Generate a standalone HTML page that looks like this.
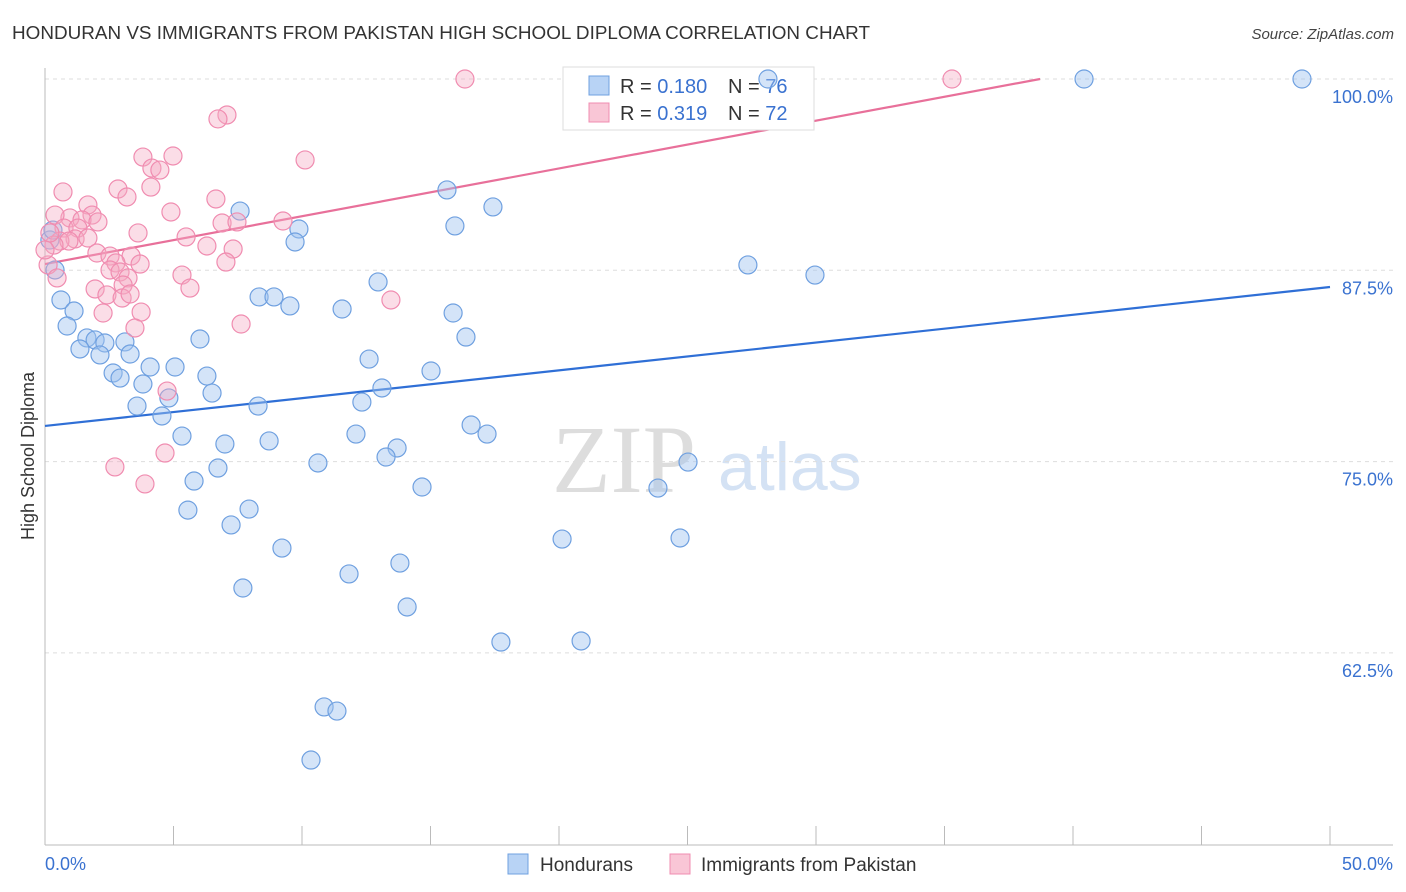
<!DOCTYPE html>
<html><head><meta charset="utf-8"><style>
body{margin:0;background:#fff;font-family:"Liberation Sans",sans-serif;}
svg{display:block}
</style></head><body>
<svg id="chart" width="1406" height="892" xmlns="http://www.w3.org/2000/svg">
<text x="12" y="39" font-size="18" fill="#333" textLength="858" lengthAdjust="spacingAndGlyphs">HONDURAN VS IMMIGRANTS FROM PAKISTAN HIGH SCHOOL DIPLOMA CORRELATION CHART</text>
<text x="1394" y="39" font-size="15" fill="#444" text-anchor="end" font-style="italic">Source: ZipAtlas.com</text>
<text x="552" y="492" font-size="96" fill="#ddd" font-family="Liberation Serif,serif">ZIP</text>
<text x="718" y="490" font-size="68" fill="#d4e2f4">atlas</text>
<text transform="translate(34,456) rotate(-90)" font-size="18" fill="#333" text-anchor="middle">High School Diploma</text>
<g id="grid"></g><g id="axes"></g><g id="lines"></g>
<g>
<rect x="563" y="67" width="251" height="63" fill="#fff" stroke="#ddd"/>
<rect x="589" y="76" width="20" height="19" fill="#b8d3f5" stroke="#6fa0e0"/>
<rect x="589" y="103" width="20" height="19" fill="#f9c6d6" stroke="#f08cb0"/>
<text x="620" y="93" font-size="20" fill="#333">R = <tspan fill="#3a72d0">0.180</tspan></text>
<text x="728" y="93" font-size="20" fill="#333">N = <tspan fill="#3a72d0">76</tspan></text>
<text x="620" y="120" font-size="20" fill="#333">R = <tspan fill="#3a72d0">0.319</tspan></text>
<text x="728" y="120" font-size="20" fill="#333">N = <tspan fill="#3a72d0">72</tspan></text>
</g>
<g id="pts"></g>
<g>
<rect x="508" y="854" width="20" height="20" fill="#b8d3f5" stroke="#6fa0e0"/>
<text x="540" y="871" font-size="19" fill="#333">Hondurans</text>
<rect x="670" y="854" width="20" height="20" fill="#f9c6d6" stroke="#f08cb0"/>
<text x="701" y="871" font-size="19" fill="#333">Immigrants from Pakistan</text>
</g>
</svg>
<script>
const blueX=[48.91,40.43,28.13,15.64,15.95,17.43,7.59,9.88,9.73,27.35,29.96,12.96,8.33,8.91,9.53,11.56,15.88,16.38,0.62,1.13,0.86,1.63,1.95,2.33,1.36,2.14,3.11,3.31,6.03,4.09,5.06,2.65,2.92,3.81,6.30,6.50,4.82,3.58,4.55,8.29,12.61,13.11,12.33,15.02,5.33,7.00,8.72,12.10,16.58,17.20,13.70,13.27,10.62,6.73,5.80,14.67,23.85,25.02,5.56,7.94,7.24,9.22,20.12,24.71,11.83,13.81,7.70,14.09,17.74,20.86,10.86,11.36,10.35,0.39,0.19,0.31];
const blueY=[100,100,100,92.75,90.4,91.64,91.37,90.2,89.35,87.85,87.19,86.74,85.76,85.76,85.17,84.97,84.71,83.14,85.56,84.84,83.86,83.08,82.95,82.75,82.36,81.97,82.82,82.03,83.01,81.18,81.18,80.79,80.46,80.07,80.59,79.48,79.16,78.63,77.98,78.63,81.70,79.81,78.89,80.92,76.67,76.15,76.35,76.80,77.39,76.80,75.89,75.30,74.91,74.58,73.73,73.34,73.27,74.97,71.83,71.90,70.86,69.35,69.94,70.01,67.66,68.37,66.74,65.50,63.21,63.28,58.97,58.70,55.50,87.52,89.48,90.13];
const pinkX=[16.34,35.29,7.08,6.73,4.98,3.81,4.16,4.47,10.12,0.70,2.84,4.12,3.19,6.65,4.90,1.67,1.83,0.97,0.39,1.44,2.06,0.74,1.28,9.26,6.89,7.47,1.17,0.58,0.93,1.67,3.62,5.49,0.35,6.30,7.32,2.02,2.53,3.35,7.04,0.12,2.76,2.53,2.92,3.70,5.33,0.47,3.23,3.04,1.95,5.64,2.41,3.00,3.31,13.46,2.26,3.74,3.50,7.63,4.75,4.67,2.72,3.89,0.19,0];
const pinkY=[100,100,97.65,97.39,94.97,94.90,94.18,94.05,94.71,92.62,92.81,92.94,92.29,92.16,91.31,91.77,91.11,90.92,91.11,90.79,90.66,90.26,90.26,90.72,90.59,90.66,89.55,89.41,89.41,89.61,89.94,89.68,89.15,89.09,88.89,88.63,88.43,88.43,88.04,87.85,87.98,87.52,87.39,87.91,87.19,87.00,87.00,86.54,86.28,86.34,85.89,85.69,85.95,85.56,84.71,84.77,83.73,83.99,79.61,75.56,74.65,73.54,89.94,88.83];
const blueLineX=[0,50], blueLineY=[77.33,86.41];
const pinkLineX=[0,38.72], pinkLineY=[87.91,100];
const yTicks=[100,87.5,75,62.5];
const yTickLabels=["100.0%","87.5%","75.0%","62.5%"];
const xTicks=[0,5,10,15,20,25,30,35,40,45,50];
const NS="http://www.w3.org/2000/svg";
const sx=v=>45+v/50*1285, sy=v=>79+(100-v)*15.304;
function mk(p,t,a){const e=document.createElementNS(NS,t);for(const k in a)e.setAttribute(k,a[k]);document.getElementById(p).appendChild(e);return e;}
yTicks.forEach((t,i)=>{
 const g=mk('grid','line',{x1:45,x2:1393,y1:sy(t),y2:sy(t),stroke:'#ddd','stroke-dasharray':'4,4'});
 
 
 const l=mk('grid','text',{x:1393,y:sy(t)+24,'font-size':18,fill:'#3a72d0','text-anchor':'end'});
 l.textContent=yTickLabels[i];
 
 
});
const ax=mk('axes','line',{x1:45,x2:1393,y1:845,y2:845,stroke:'#bbb'});


const ay=mk('axes','line',{x1:45,x2:45,y1:68,y2:845,stroke:'#bbb'});


xTicks.forEach(t=>{const k=mk('axes','line',{x1:sx(t),x2:sx(t),y1:826,y2:845,stroke:'#bbb'});
 
 });
const xl0=mk('axes','text',{x:45,y:870,'font-size':18,fill:'#3a72d0'});xl0.textContent='0.0%';


const xl1=mk('axes','text',{x:1393,y:870,'font-size':18,fill:'#3a72d0','text-anchor':'end'});xl1.textContent='50.0%';


blueX.forEach((v,i)=>{const c=mk('pts','circle',{cx:sx(v),cy:sy(blueY[i]),r:9,fill:'rgba(160,195,240,0.45)',stroke:'#6fa0e0','stroke-width':1.2});
 
 });
pinkX.forEach((v,i)=>{const c=mk('pts','circle',{cx:sx(v),cy:sy(pinkY[i]),r:9,fill:'rgba(245,170,195,0.4)',stroke:'#f08cb0','stroke-width':1.2});
 
 });
const bl=mk('lines','line',{x1:sx(blueLineX[0]),y1:sy(blueLineY[0]),x2:sx(blueLineX[1]),y2:sy(blueLineY[1]),stroke:'#2f6fd6','stroke-width':2.2});


const pl=mk('lines','line',{x1:sx(pinkLineX[0]),y1:sy(pinkLineY[0]),x2:sx(pinkLineX[1]),y2:sy(pinkLineY[1]),stroke:'#e8709a','stroke-width':2.2});


</script>
</body></html>
